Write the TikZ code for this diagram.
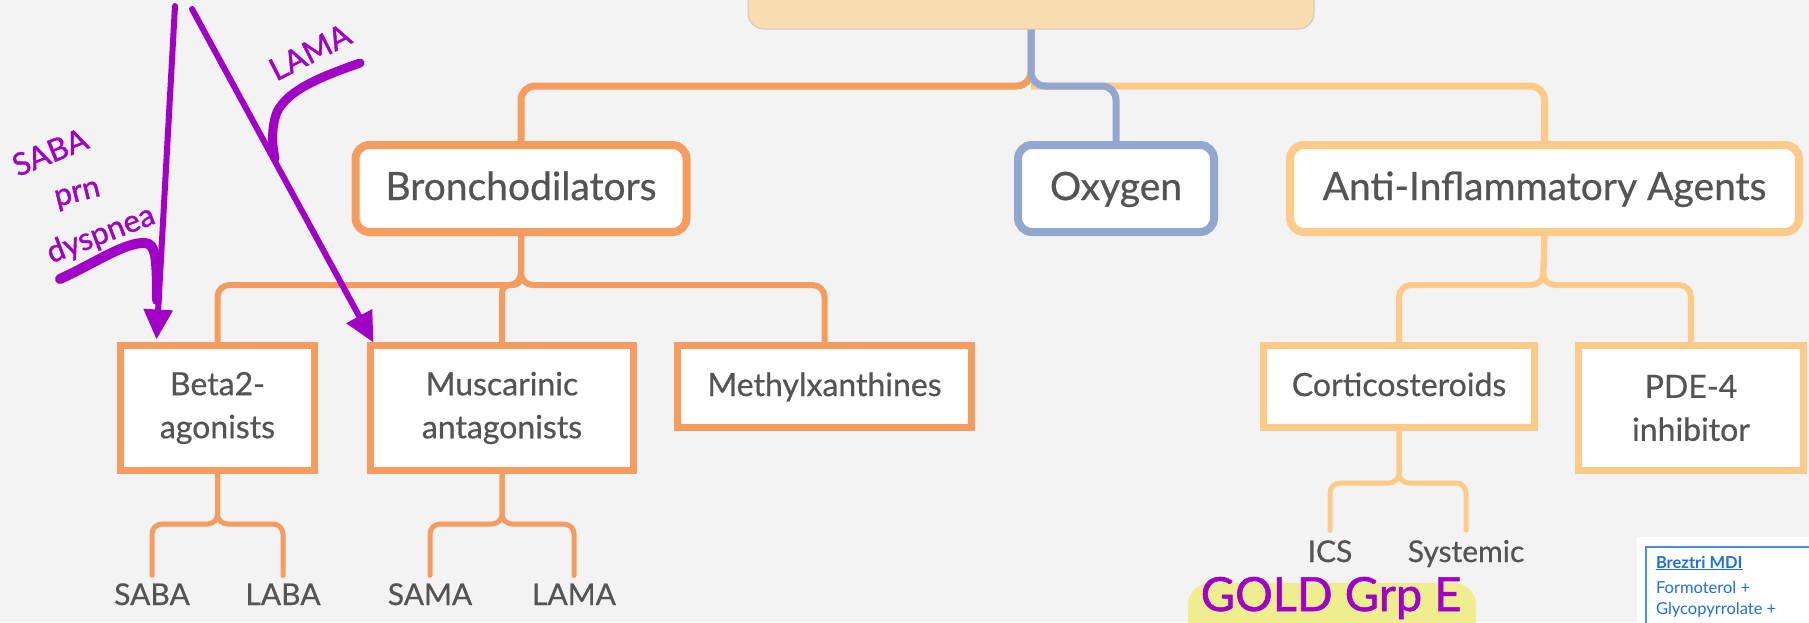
\documentclass[tikz,border=0pt]{standalone}
\usepackage{fontspec}
\setmainfont{Lato}
\newfontfamily\diagfont[FakeBold=0.6]{Lato}
\newfontfamily\penfont[FakeBold=1.2]{Lato}
\usetikzlibrary{arrows.meta,calc}

\definecolor{bg}{RGB}{243,243,243}
\definecolor{rim}{RGB}{200,200,200}
\definecolor{rootfill}{RGB}{249,221,177}
\definecolor{orangeC}{RGB}{247,156,95}
\definecolor{lightC}{RGB}{253,202,135}
\definecolor{blueC}{RGB}{145,167,208}
\definecolor{txt}{RGB}{84,84,84}
\definecolor{pen}{RGB}{161,0,198}
\definecolor{hl}{RGB}{239,238,142}
\definecolor{linkblue}{RGB}{31,111,229}

\pgfdeclarelayer{bglayer}
\pgfsetlayers{bglayer,main}

\begin{document}
\begin{tikzpicture}[x=1pt, y=-1pt,
  every node/.style={inner sep=0pt, outer sep=0pt},
  hub/.style={draw=rim, line width=1pt, fill=rootfill, rounded corners=16pt},
  topbox/.style={fill=white, line width=8pt, rounded corners=14pt, text=txt,
    font=\diagfont\fontsize{39}{44}\selectfont, text height=28pt, text depth=5pt},
  subbox/.style={fill=white, line width=7pt, text=txt, align=center,
    font=\diagfont\fontsize{32}{43}\selectfont},
  oneline/.style={text height=23pt, text depth=4pt},
  leaf/.style={text=txt, font=\diagfont\fontsize{30}{36}\selectfont, anchor=base},
  link1/.style={line width=7pt, rounded corners=14pt},
  link2/.style={line width=6pt, rounded corners=12pt},
  link3/.style={line width=5pt, rounded corners=10pt, line cap=round},
  ink/.style={draw=pen, line width=6pt, line cap=round},
  inktext/.style={text=pen, font=\penfont\fontsize{31}{36}\selectfont},
  note/.style={text=linkblue, font=\fontsize{16.5}{20}\selectfont, anchor=base west},
]
\useasboundingbox (0,0) rectangle (1809,622);

% top-level category (its title lies above the visible area)
\node[hub, minimum width=566pt, minimum height=60pt] (root) at (1031,-1) {};

% first level
\node[topbox, draw=orangeC, minimum width=331pt, minimum height=87pt] (bron) at (521,188.5) {Bronchodilators};
\node[topbox, draw=blueC, minimum width=196pt, minimum height=87pt] (oxy) at (1116,188.5) {Oxygen};
\node[topbox, draw=lightC, minimum width=509pt, minimum height=87pt] (anti) at (1544.5,188.5) {Anti-Inflammatory Agents};

% second level
\node[subbox, draw=orangeC, minimum width=194pt, minimum height=125pt] (beta) at (217.5,408) {Beta2-\\agonists};
\node[subbox, draw=orangeC, minimum width=263pt, minimum height=125pt] (musc) at (502,408) {Muscarinic\\antagonists};
\node[subbox, oneline, draw=orangeC, minimum width=294pt, minimum height=82pt] (meth) at (824.5,386.5) {Methylxanthines};
\node[subbox, oneline, draw=lightC, minimum width=271pt, minimum height=82pt] (cort) at (1399,386.5) {Corticosteroids};
\node[subbox, draw=lightC, minimum width=225pt, minimum height=125pt] (pde) at (1691,408) {PDE-4\\inhibitor};

% leaves
\node[leaf] (saba) at (152,605) {SABA};
\node[leaf] (laba) at (283,605) {LABA};
\node[leaf] (sama) at (430,605) {SAMA};
\node[leaf] (lama) at (574,605) {LAMA};
\node[leaf] (ics) at (1330,562) {ICS};
\node[leaf] (sys) at (1466,562) {Systemic};

% junction points
\coordinate (j1) at (1031,86);
\coordinate (j2) at (521,285);
\coordinate (j3) at (1543,285);
\coordinate (jb) at (217.5,524);
\coordinate (jm) at (502,524);
\coordinate (jc) at (1399,483);

\begin{pgfonlayer}{bglayer}
  \fill[bg] (0,0) rectangle (1809,622);
  % first-level links
  \draw[link1, orangeC] (root.south) -- (j1) -| (bron.north);
  \draw[link1, lightC] (j1) -| (anti.north);
  \draw[link1, blueC] (root.south) -- (j1) -| (oxy.north);
  % second-level links
  \draw[link2, orangeC] (bron.south) -- (j2) -| (beta.north);
  \draw[link2, orangeC, rounded corners=8pt] (bron.south) -- (j2) -| (musc.north);
  \draw[link2, orangeC] (bron.south) -- (j2) -| (meth.north);
  \draw[link2, lightC] (anti.south) -- (j3) -| (cort.north);
  \draw[link2, lightC] (anti.south) -- (j3) -| (pde.north);
  % brackets to the leaves
  \draw[link3, orangeC] (beta.south) -- (jb) -| ([yshift=8pt]saba.north);
  \draw[link3, orangeC] (beta.south) -- (jb) -| ([yshift=8pt]laba.north);
  \draw[link3, orangeC] (musc.south) -- (jm) -| ([yshift=8pt]sama.north);
  \draw[link3, orangeC] (musc.south) -- (jm) -| ([yshift=8pt]lama.north);
  \draw[link3, lightC] (cort.south) -- (jc) -| ([yshift=10pt]ics.north);
  \draw[link3, lightC] (cort.south) -- (jc) -| ([yshift=10pt]sys.north);
\end{pgfonlayer}

% highlighted handwritten group label
\fill[hl, rounded corners=22pt] (1188,583) rectangle (1476,650);
\node[text=pen, font=\penfont\fontsize{47}{52}\selectfont, anchor=base] (gold) at (1331,611) {GOLD Grp E};

% inhaler note
\fill[white] (1637,537) rectangle (1830,640);
\draw[linkblue!80, line width=1.5pt] (1646,547) rectangle (1840,650);
\node[note, font=\fontsize{16.5}{20}\selectfont\bfseries] (bz1) at (1656,568) {\underline{Breztri MDI}};
\node[note] (bz2) at (1656,593) {Formoterol +};
\node[note] (bz3) at (1656,614) {Glycopyrrolate +};

% handwritten arrows and notes
\coordinate (p1) at (175,6);
\coordinate (p2) at (192,9);
\draw[ink, -{Triangle[length=30pt,width=28pt]}] (p1) -- ($(beta.north west)+(36,-6)$);
\draw[ink, -{Triangle[length=30pt,width=28pt]}] (p2) -- ($(musc.north west)+(3,-3)$);
\draw[ink, line width=9pt] (360,63) .. controls (320,77) and (288,90) .. (277,112)
  .. controls (271,128) and (272,145) .. (275,158);
\draw[ink, line width=10pt] (60,279) .. controls (95,263) and (125,242) .. (145,243)
  .. controls (156,244) and (157,258) .. (157,300);
\node[inktext, rotate=27] (lamanote) at (310,52) {LAMA};
\node[inktext, rotate=22] (sabanote) at (50,152) {SABA};
\node[inktext, rotate=14] (prnnote) at (78,196) {prn};
\node[inktext, rotate=21] (dysnote) at (101,235) {dyspnea};
\end{tikzpicture}
\end{document}
